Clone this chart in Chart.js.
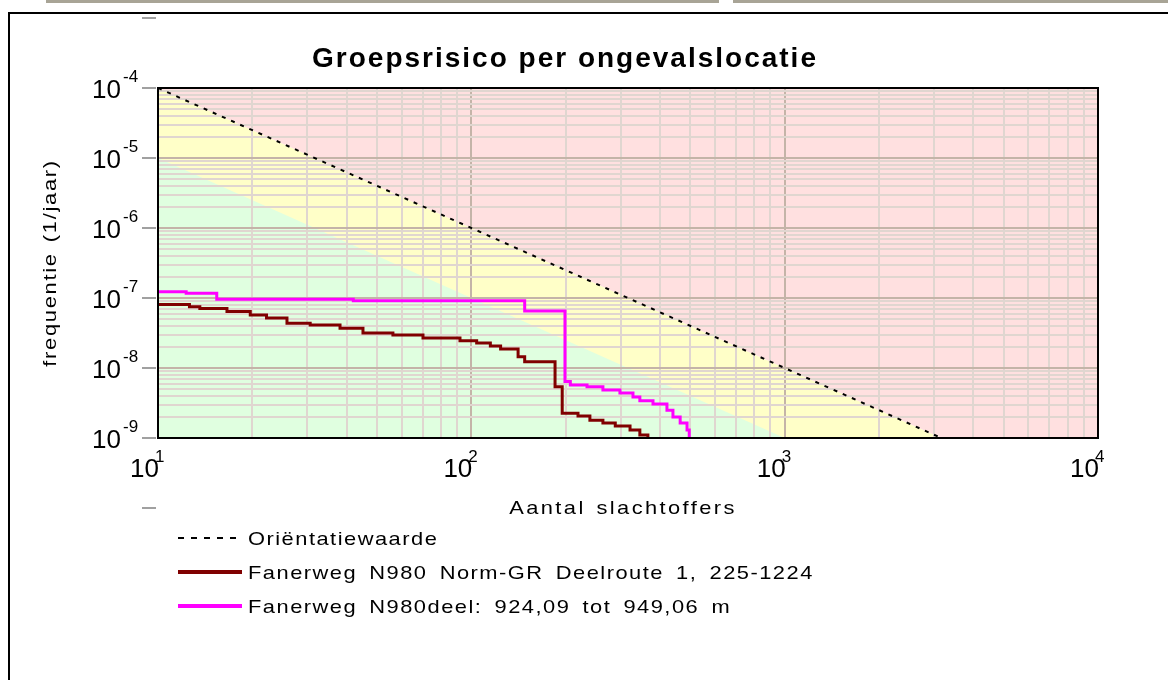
<!DOCTYPE html>
<html>
<head>
<meta charset="utf-8">
<script src="https://cdn.jsdelivr.net/npm/chart.js@4.4.0/dist/chart.umd.min.js"></script>
<style>
body { margin: 0; background: #fff; }
#wrap { width: 1168px; height: 680px; position: relative; }
</style>
</head>
<body>
<div id="wrap"><canvas id="grChart"></canvas></div>
<script>
// values (N = aantal slachtoffers, F = frequentie per jaar)
const orientN = [10, 10000];
const orientF = [1e-4, 1e-10];
const lowerN = [10, 10000];
const lowerF = [1e-5, 1e-11];

const routeN = [10, 12.6, 13.6, 16.6, 19.7, 22.2, 25.8, 30.6, 38.1, 45.1, 56.2, 70.1, 92, 104, 115, 124, 141, 148, 185, 195, 219, 239, 263, 288, 321, 345, 366];
const routeF = [8.1e-8, 7.5e-8, 7.1e-8, 6.4e-8, 5.7e-8, 5.2e-8, 4.35e-8, 4.1e-8, 3.7e-8, 3.16e-8, 2.96e-8, 2.68e-8, 2.46e-8, 2.28e-8, 2.06e-8, 1.87e-8, 1.45e-8, 1.23e-8, 5.4e-9, 2.25e-9, 2.06e-9, 1.8e-9, 1.64e-9, 1.48e-9, 1.3e-9, 1.1e-9, 1e-9];

const deelN = [10, 12.3, 15.4, 42, 148, 199, 207, 234, 263, 298, 328, 345, 380, 421, 440, 464, 488, 496];
const deelF = [1.23e-7, 1.17e-7, 9.6e-8, 9.1e-8, 6.5e-8, 6.4e-9, 5.7e-9, 5.4e-9, 4.85e-9, 4.4e-9, 3.85e-9, 3.4e-9, 3.06e-9, 2.5e-9, 2.0e-9, 1.64e-9, 1.3e-9, 1e-9];

const xDecades = [1, 2, 3, 4];
const yDecades = [-9, -8, -7, -6, -5, -4];
const yTickMarks = [-10, -9, -8, -7, -6, -5, -4, -3];

const titleText = 'Groepsrisico per ongevalslocatie';
const xTitle = 'Aantal slachtoffers';
const yTitle = 'frequentie (1/jaar)';
const legendLabels = ['Oriëntatiewaarde', 'Fanerweg N980 Norm-GR Deelroute 1, 225-1224', 'Fanerweg N980deel: 924,09 tot 949,06 m'];

const minorGrid = 'rgb(224,214,208)';
const majorGrid = 'rgb(196,180,168)';
const FONT = '"Liberation Sans", Arial, sans-serif';

function pts(xs, ys) {
    return xs.map((x, i) => ({x: x, y: ys[i]}));
}

function logTicks(scale) {
    let t = [];
    let lo = Math.round(Math.log10(scale.min));
    let hi = Math.round(Math.log10(scale.max));
    for (let e = lo; e <= hi; e++) {
        for (let k = 1; k <= 9; k++) {
            let v = Number((k * Math.pow(10, e)).toPrecision(6));
            if (v <= scale.max * 1.0001) t.push({value: v, major: k === 1});
        }
    }
    scale.ticks = t;
}

// text with optional spacing and a horizontal stretch (the original font is wide)
function txt(ctx, s, x, y, font, align, spacing, wordSp, stretch) {
    ctx.save();
    ctx.font = font;
    ctx.letterSpacing = (spacing || 0) + 'px';
    ctx.wordSpacing = (wordSp || 0) + 'px';
    ctx.textAlign = align;
    ctx.translate(x, y);
    ctx.scale(stretch || 1, 1);
    ctx.fillText(s, 0, 0);
    ctx.restore();
}

const decor = {
    id: 'decor',
    afterDraw(chart) {
        const ctx = chart.ctx;
        const a = chart.chartArea;
        const xs = chart.scales.x, ys = chart.scales.y;
        ctx.save();

        // window bits round the chart
        ctx.fillStyle = 'rgb(168,164,150)';
        ctx.fillRect(46, 0, 673, 3);
        ctx.fillRect(733, 0, 435, 3);
        ctx.fillStyle = '#000';
        ctx.fillRect(8, 12, 1160, 2);
        ctx.fillRect(8, 12, 2, 668);

        // frame of the plot
        ctx.strokeStyle = '#000';
        ctx.lineWidth = 2;
        ctx.strokeRect(a.left, a.top, a.right - a.left, a.bottom - a.top);

        // tick marks left of the y axis
        ctx.strokeStyle = 'rgb(160,160,160)';
        ctx.lineWidth = 2;
        yTickMarks.forEach(e => {
            let py = Math.round(ys.getPixelForValue(Math.pow(10, e)));
            ctx.beginPath();
            ctx.moveTo(a.left - 16, py);
            ctx.lineTo(a.left - 2, py);
            ctx.stroke();
        });

        ctx.fillStyle = '#000';
        ctx.textBaseline = 'alphabetic';
        yDecades.forEach(e => {
            let py = ys.getPixelForValue(Math.pow(10, e));
            txt(ctx, '10', a.left - 37, py + 9.5, '26px ' + FONT, 'right');
            txt(ctx, String(e), a.left - 35, py - 6, '17px ' + FONT, 'left');
        });
        xDecades.forEach(e => {
            let px = xs.getPixelForValue(Math.pow(10, e));
            txt(ctx, '10', px + 1, a.bottom + 39, '26px ' + FONT, 'right');
            txt(ctx, String(e), px - 3, a.bottom + 24, '17px ' + FONT, 'left');
        });

        // titles
        txt(ctx, titleText, 565, 67, 'bold 28px ' + FONT, 'center', 2);
        txt(ctx, xTitle, 623, 514, '19px ' + FONT, 'center', 2.1, 2, 1.15);
        ctx.save();
        ctx.translate(56, 263);
        ctx.rotate(-Math.PI / 2);
        txt(ctx, yTitle, 0, 0, '19px ' + FONT, 'center', 1.5, 2, 1.15);
        ctx.restore();

        // legend
        const ds = chart.data.datasets;
        const legendSets = [ds[2], ds[1], ds[0]];
        legendSets.forEach((d, i) => {
            let yy = 538 + i * 34;
            ctx.strokeStyle = d.borderColor;
            ctx.lineWidth = i === 0 ? 2 : 4;
            ctx.setLineDash(i === 0 ? [6, 7] : []);
            ctx.beginPath();
            ctx.moveTo(178, yy);
            ctx.lineTo(242, yy);
            ctx.stroke();
            ctx.setLineDash([]);
            ctx.fillStyle = '#000';
            txt(ctx, legendLabels[i], 248, yy + 7, '19px ' + FONT, 'left', 1.3, 4, 1.15);
        });
        ctx.restore();
    }
};

new Chart(document.getElementById('grChart'), {
    type: 'line',
    data: {
        datasets: [{
            label: legendLabels[2],
            data: pts(deelN, deelF),
            borderColor: '#ff00ff',
            borderWidth: 3,
            stepped: 'before',
            pointRadius: 0,
            fill: false
        }, {
            label: legendLabels[1],
            data: pts(routeN, routeF),
            borderColor: '#800000',
            borderWidth: 3,
            stepped: 'before',
            pointRadius: 0,
            fill: false
        }, {
            label: legendLabels[0],
            data: pts(orientN, orientF),
            borderColor: '#000',
            borderWidth: 2,
            borderDash: [4, 6],
            pointRadius: 0,
            fill: 'end',
            backgroundColor: 'rgb(255,224,224)'
        }, {
            label: 'zone laag',
            data: pts(lowerN, lowerF),
            borderColor: 'transparent',
            pointRadius: 0,
            fill: 'start',
            backgroundColor: 'rgb(224,255,224)'
        }, {
            label: 'zone midden',
            data: pts(orientN, orientF),
            borderColor: 'transparent',
            pointRadius: 0,
            fill: 'start',
            backgroundColor: 'rgb(255,255,200)'
        }]
    },
    options: {
        responsive: true,
        maintainAspectRatio: false,
        animation: false,
        layout: {padding: {left: 158, top: 88, right: 70, bottom: 242}},
        plugins: {
            legend: {display: false},
            title: {display: false},
            tooltip: {enabled: false},
            filler: {drawTime: 'beforeDraw'}
        },
        scales: {
            x: {
                type: 'logarithmic',
                min: 10,
                max: 10000,
                afterBuildTicks: logTicks,
                ticks: {display: false, autoSkip: false},
                border: {display: false},
                grid: {
                    drawTicks: false,
                    lineWidth: 2,
                    color: c => (c.tick && c.tick.major) ? majorGrid : minorGrid
                }
            },
            y: {
                type: 'logarithmic',
                min: 1e-9,
                max: 1e-4,
                afterBuildTicks: logTicks,
                ticks: {display: false, autoSkip: false},
                border: {display: false},
                grid: {
                    drawTicks: false,
                    lineWidth: 2,
                    color: c => (c.tick && c.tick.major) ? majorGrid : minorGrid
                }
            }
        }
    },
    plugins: [decor]
});
</script>
</body>
</html>
